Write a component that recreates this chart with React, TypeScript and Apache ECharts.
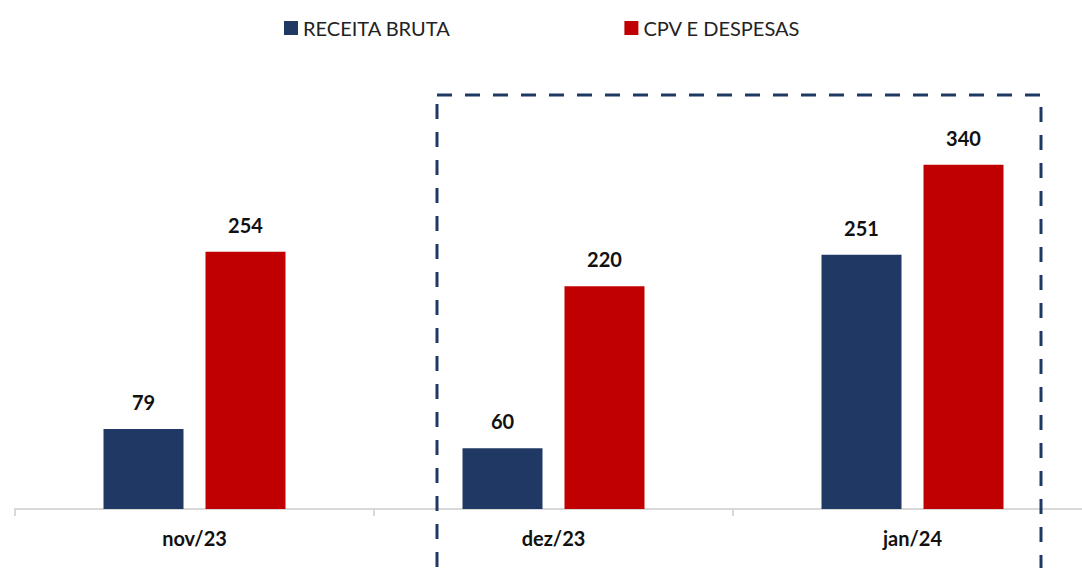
import React, { useEffect, useRef } from "react";
import * as echarts from "echarts";

const categories = ["nov/23", "dez/23", "jan/24"];
const receitaBruta = [79, 60, 251];
const cpvDespesas = [254, 220, 340];
const seriesNames = ["RECEITA BRUTA", "CPV E DESPESAS"];

export default function App() {
  const ref = useRef<HTMLDivElement>(null);
  useEffect(() => {
    if (!ref.current) return;
    const chart = echarts.init(ref.current, null, { renderer: "svg" });
    const font = "Lato, 'Open Sans', sans-serif";
    chart.setOption({
      animation: false,
      backgroundColor: "#ffffff",
      legend: {
        top: 13,
        left: 279,
        itemWidth: 14,
        itemHeight: 14,
        itemGap: 174,
        icon: "rect",
        textStyle: { fontSize: 20, color: "#222", fontFamily: font },
        data: seriesNames,
      },
      grid: { left: 15, right: 8, top: 104, bottom: 59 },
      xAxis: {
        type: "category",
        data: categories,
        axisLine: { lineStyle: { color: "#d9d9d9", width: 2 } },
        axisTick: { show: true, length: 7, lineStyle: { color: "#d9d9d9", width: 2 } },
        axisLabel: { fontSize: 20, fontWeight: "bold", color: "#111", margin: 19, fontFamily: font },
      },
      yAxis: { type: "value", min: 0, max: 400, show: false, splitLine: { show: false } },
      series: [
        {
          name: seriesNames[0],
          type: "bar",
          data: receitaBruta,
          barWidth: 80,
          barGap: "27.5%",
          itemStyle: { color: "#203864" },
          label: { show: true, position: "top", distance: 17, fontSize: 20, fontWeight: "bold", color: "#111", fontFamily: font },
        },
        {
          name: seriesNames[1],
          type: "bar",
          data: cpvDespesas,
          barWidth: 80,
          barGap: "27.5%",
          itemStyle: { color: "#C00000" },
          label: { show: true, position: "top", distance: 17, fontSize: 20, fontWeight: "bold", color: "#111", fontFamily: font },
        },
      ],
      graphic: [
        {
          type: "rect",
          shape: { x: 437, y: 95, width: 604, height: 500 },
          style: { fill: "none", stroke: "#203864", lineWidth: 3, lineDash: [15, 13] },
          z: 10,
        },
      ],
    });
    return () => chart.dispose();
  }, []);
  return (
    <div style={{ position: "fixed", left: 0, top: 0, width: 1082, height: 568, overflow: "hidden" }}>
      <div ref={ref} style={{ width: 1100, height: 568 }} />
    </div>
  );
}
